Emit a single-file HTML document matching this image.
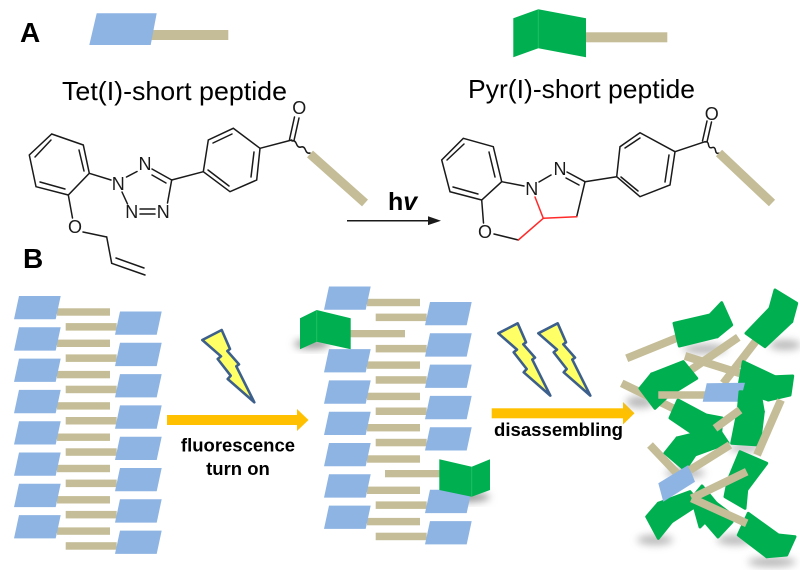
<!DOCTYPE html>
<html><head><meta charset="utf-8"><style>
html,body{margin:0;padding:0;background:#fff;}
svg{display:block;}
text{font-family:"Liberation Sans",Arial,sans-serif;}
</style></head><body>
<svg width="800" height="570" viewBox="0 0 800 570" xmlns="http://www.w3.org/2000/svg">
<defs>
<polygon id="bl" points="5,0 46.7,0 41.7,23.3 0,23.3" fill="#8eb4e3"/>
<filter id="blur" x="-50%" y="-50%" width="200%" height="200%"><feGaussianBlur stdDeviation="4"/></filter>
<g id="bolt"><polygon points="7.3,15 26.7,5 35,24 32.3,26 44,39.3 41.3,41.3 59.3,77.3 32.7,54 35.7,50.7 22.7,34 26,31.3" fill="#ffff66" stroke="#3d5f8b" stroke-width="2.6" stroke-linejoin="round"/></g>
</defs>

<!-- Labels A / B -->
<text x="20" y="42" font-size="28" font-weight="bold">A</text>
<text x="23" y="268" font-size="28" font-weight="bold">B</text>

<!-- Top icons -->
<rect x="150" y="30" width="78.3" height="10" fill="#c4bd97"/>
<polygon points="96.7,13.3 156.7,13.3 150.7,45 89.3,45" fill="#8eb4e3"/>
<rect x="585" y="32.3" width="82.3" height="10" fill="#c4bd97"/>
<polygon points="513.3,18.3 538.3,9.3 586,18.3 586,57.3 538.3,48.3 513.3,57.3" fill="#00b050"/>
<line x1="538.3" y1="9.5" x2="538.3" y2="48" stroke="#22c064" stroke-width="1"/>

<text x="62" y="100" font-size="26" textLength="225" lengthAdjust="spacingAndGlyphs">Tet(I)-short peptide</text>
<text x="468" y="98" font-size="26" textLength="227" lengthAdjust="spacingAndGlyphs">Pyr(I)-short peptide</text>

<!-- Left molecule -->
<g stroke="#1a1a1a" stroke-width="1.5" fill="none" stroke-linecap="round">
  <polygon points="51.7,134 83.3,145 89.3,173.3 68.3,195 36,186.7 29.3,155"/>
  <line x1="79" y1="150" x2="84" y2="171"/>
  <line x1="65" y1="189" x2="40" y2="182"/>
  <line x1="35" y1="157" x2="51" y2="140"/>
  <line x1="89.3" y1="173.3" x2="111" y2="180"/>
  <line x1="126.5" y1="177" x2="137" y2="171.5"/>
  <line x1="152" y1="169" x2="171.7" y2="180"/>
  <line x1="152" y1="175" x2="166" y2="183"/>
  <line x1="171.7" y1="180" x2="167.5" y2="203"/>
  <line x1="140" y1="209" x2="155" y2="209"/>
  <line x1="140" y1="214" x2="155" y2="214"/>
  <line x1="127.5" y1="204" x2="122" y2="192"/>
  <line x1="171.7" y1="180" x2="203.3" y2="171.7"/>
  <polygon points="203.3,171.7 208.3,140 233.3,128.3 260,148.3 256.7,180 230,191.7"/>
  <line x1="213" y1="143" x2="232" y2="134"/>
  <line x1="254" y1="152" x2="251" y2="177"/>
  <line x1="229" y1="186" x2="208" y2="170"/>
  <line x1="260" y1="148.3" x2="291.7" y2="140"/>
  <line x1="289.5" y1="139.5" x2="294.5" y2="117"/>
  <line x1="294" y1="140.5" x2="299" y2="118"/>
  <path d="M292,141 q3,-1 4.5,3 t4.5,3 t4.5,3 t4.5,3"/>
  <line x1="68.3" y1="195" x2="72.5" y2="218"/>
  <line x1="83" y1="232" x2="106.7" y2="237"/>
  <line x1="106.7" y1="237" x2="111.7" y2="263.3"/>
  <line x1="111.7" y1="263.3" x2="145" y2="275"/>
  <line x1="116" y1="258" x2="144" y2="268"/>
</g>
<line x1="310" y1="154" x2="365" y2="203" stroke="#c4bd97" stroke-width="9"/>
<g font-size="18" fill="#1a1a1a" text-anchor="middle">
  <text x="118.3" y="190">N</text>
  <text x="145" y="170">N</text>
  <text x="131.7" y="218">N</text>
  <text x="163.3" y="218">N</text>
  <text x="75" y="233">O</text>
  <text x="299.3" y="114">O</text>
</g>

<!-- Arrow hv -->
<line x1="347" y1="220.7" x2="432" y2="220.7" stroke="#1a1a1a" stroke-width="1.5"/>
<polygon points="441,220.7 428,216.3 428,225.1" fill="#1a1a1a"/>
<text x="388" y="210" font-size="25" font-weight="bold">h<tspan font-style="italic">v</tspan></text>

<!-- Right molecule -->
<g stroke="#1a1a1a" stroke-width="1.5" fill="none" stroke-linecap="round">
  <polygon points="463.3,138.3 493.3,146.7 501.7,181.7 481.7,200 450,191.7 441.7,160"/>
  <line x1="489" y1="152" x2="495" y2="177"/>
  <line x1="478" y1="194" x2="453" y2="187"/>
  <line x1="447" y1="160" x2="464" y2="144"/>
  <line x1="501.7" y1="181.7" x2="524" y2="186"/>
  <line x1="539" y1="182" x2="551" y2="175"/>
  <line x1="567" y1="172" x2="585" y2="181.7"/>
  <line x1="566" y1="178" x2="579" y2="185"/>
  <line x1="585" y1="181.7" x2="576.7" y2="216.7"/>
  <line x1="518.3" y1="240" x2="494" y2="234"/>
  <line x1="483.5" y1="223" x2="481.7" y2="200"/>
  <line x1="585" y1="181.7" x2="616.7" y2="176.7"/>
  <polygon points="616.7,176.7 620,146.7 640,132.7 675,151.7 670,185 640,196.7"/>
  <line x1="625" y1="148" x2="640" y2="138"/>
  <line x1="669" y1="155" x2="665" y2="182"/>
  <line x1="638" y1="191" x2="621" y2="177"/>
  <line x1="675" y1="151.7" x2="705" y2="141.7"/>
  <line x1="702.5" y1="141" x2="707" y2="121"/>
  <line x1="707" y1="142" x2="711.5" y2="122"/>
  <path d="M705,142 q3,-1 3.5,2.8 t3.5,2.8 t3.5,2.8 t3.5,2.8"/>
</g>
<g stroke="#ff2a2a" stroke-width="1.5" fill="none" stroke-linecap="round">
  <line x1="576.7" y1="216.7" x2="543.3" y2="218.3"/>
  <line x1="535" y1="197" x2="543.3" y2="218.3"/>
  <line x1="543.3" y1="218.3" x2="518.3" y2="240"/>
</g>
<line x1="719" y1="153" x2="772" y2="203" stroke="#c4bd97" stroke-width="9"/>
<g font-size="18" fill="#1a1a1a" text-anchor="middle">
  <text x="531.7" y="195">N</text>
  <text x="560" y="175">N</text>
  <text x="485" y="238">O</text>
  <text x="711.7" y="120">O</text>
</g>

<!-- Left stack -->
<g fill="#c4bd97">
  <rect x="57" y="308.3" width="53" height="7.4"/><rect x="57" y="339.6" width="53" height="7.4"/>
  <rect x="57" y="370.9" width="53" height="7.4"/><rect x="57" y="402.2" width="53" height="7.4"/>
  <rect x="57" y="433.5" width="53" height="7.4"/><rect x="57" y="464.8" width="53" height="7.4"/>
  <rect x="57" y="496.1" width="53" height="7.4"/><rect x="57" y="527.4" width="53" height="7.4"/>
  <rect x="65.7" y="323.1" width="51" height="7.5"/><rect x="65.7" y="354.4" width="51" height="7.5"/>
  <rect x="65.7" y="385.7" width="51" height="7.5"/><rect x="65.7" y="417" width="51" height="7.5"/>
  <rect x="65.7" y="448.3" width="51" height="7.5"/><rect x="65.7" y="479.6" width="51" height="7.5"/>
  <rect x="65.7" y="510.9" width="51" height="7.5"/><rect x="65.7" y="542.2" width="51" height="7.5"/>
</g>
<use href="#bl" x="14" y="296"/><use href="#bl" x="14" y="327.3"/><use href="#bl" x="14" y="358.6"/><use href="#bl" x="14" y="389.9"/>
<use href="#bl" x="14" y="421.2"/><use href="#bl" x="14" y="452.5"/><use href="#bl" x="14" y="483.8"/><use href="#bl" x="14" y="515.1"/>
<use href="#bl" x="115" y="311.5"/><use href="#bl" x="115" y="342.8"/><use href="#bl" x="115" y="374.1"/><use href="#bl" x="115" y="405.4"/>
<use href="#bl" x="115" y="436.7"/><use href="#bl" x="115" y="468"/><use href="#bl" x="115" y="499.3"/><use href="#bl" x="115" y="530.6"/>

<!-- Bolts -->
<use href="#bolt" x="195" y="325"/>
<use href="#bolt" x="491" y="318.3"/>
<use href="#bolt" x="531" y="318.3"/>

<!-- Arrow 1 -->
<rect x="167" y="415" width="131" height="10" fill="#ffc000"/>
<polygon points="297,409 308.5,420 297,431" fill="#ffc000"/>
<text x="238" y="451.5" font-size="18.5" font-weight="bold" text-anchor="middle">fluorescence</text>
<text x="238" y="475" font-size="18.5" font-weight="bold" text-anchor="middle">turn on</text>

<!-- Arrow 2 -->
<rect x="491.7" y="408.3" width="132.3" height="10" fill="#ffc000"/>
<polygon points="623,402 634.5,413.3 623,424.5" fill="#ffc000"/>
<text x="494" y="436" font-size="18.5" font-weight="bold" textLength="129" lengthAdjust="spacingAndGlyphs">disassembling</text>

<!-- Middle stack -->
<ellipse cx="312" cy="344" rx="18" ry="5" fill="#9a9a9a" filter="url(#blur)"/>
<ellipse cx="466" cy="497" rx="24" ry="5" fill="#9a9a9a" filter="url(#blur)"/>
<g transform="translate(310,-9.5)">
  <g fill="#c4bd97">
    <rect x="57" y="308.3" width="53" height="7.4"/>
    <rect x="57" y="370.9" width="53" height="7.4"/><rect x="57" y="402.2" width="53" height="7.4"/>
    <rect x="57" y="433.5" width="53" height="7.4"/><rect x="57" y="464.8" width="53" height="7.4"/>
    <rect x="57" y="496.1" width="53" height="7.4"/><rect x="57" y="527.4" width="53" height="7.4"/>
    <rect x="65.7" y="323.1" width="51" height="7.5"/><rect x="65.7" y="354.4" width="51" height="7.5"/>
    <rect x="65.7" y="385.7" width="51" height="7.5"/><rect x="65.7" y="417" width="51" height="7.5"/>
    <rect x="65.7" y="448.3" width="51" height="7.5"/>
    <rect x="65.7" y="510.9" width="51" height="7.5"/><rect x="65.7" y="542.2" width="51" height="7.5"/>
  </g>
  <use href="#bl" x="14" y="296"/><use href="#bl" x="14" y="358.6"/><use href="#bl" x="14" y="389.9"/>
  <use href="#bl" x="14" y="421.2"/><use href="#bl" x="14" y="452.5"/><use href="#bl" x="14" y="483.8"/><use href="#bl" x="14" y="515.1"/>
  <use href="#bl" x="115" y="311.5"/><use href="#bl" x="115" y="342.8"/><use href="#bl" x="115" y="374.1"/><use href="#bl" x="115" y="405.4"/>
  <use href="#bl" x="115" y="436.7"/><use href="#bl" x="115" y="499.3"/><use href="#bl" x="115" y="530.6"/>
</g>
<rect x="348" y="330" width="57" height="7.3" fill="#c4bd97"/>
<polygon points="300,318.3 316.7,310 350.7,318.3 350.7,349.3 316.7,341.7 300,349.3" fill="#00b050"/>
<line x1="316.7" y1="310.5" x2="316.7" y2="341.5" stroke="#22c064" stroke-width="1"/>
<rect x="385" y="470" width="56" height="7.3" fill="#c4bd97"/>
<polygon points="439.3,459.3 471.7,466.7 490,459.3 490,490 471.7,496.7 439.3,490" fill="#00b050"/>
<line x1="471.7" y1="467" x2="471.7" y2="496.5" stroke="#22c064" stroke-width="1"/>

<!-- Disassembled cluster -->
<g fill="#a8a8a8" filter="url(#blur)" opacity="0.8">
  <ellipse cx="705" cy="349" rx="22" ry="5"/>
  <ellipse cx="785" cy="345" rx="16" ry="5"/>
  <ellipse cx="640" cy="402" rx="14" ry="6"/>
  <ellipse cx="685" cy="473" rx="20" ry="5"/>
  <ellipse cx="655" cy="540" rx="18" ry="5"/>
  <ellipse cx="735" cy="540" rx="18" ry="5"/>
  <ellipse cx="772" cy="562" rx="24" ry="5"/>
  <ellipse cx="745" cy="448" rx="16" ry="4"/>
</g>
<g stroke="#c4bd97" stroke-width="8">
  <line x1="626.7" y1="358.3" x2="680" y2="336.7"/>
  <line x1="756.7" y1="340" x2="723.3" y2="383.3"/>
  <line x1="738.3" y1="337.3" x2="688.3" y2="371.7"/>
  <line x1="685" y1="356" x2="740" y2="373.3"/>
  <line x1="621.7" y1="383.3" x2="676.7" y2="410"/>
  <line x1="650" y1="445" x2="683.3" y2="480"/>
</g>
<g fill="#00b050" stroke="#00b050" stroke-width="3" stroke-linejoin="round">
  <polygon points="674,323.3 710,315 717.3,336.7 679.3,346"/><polygon points="710,315 721.7,302.7 731.7,325 717.3,336.7"/>
  <polygon points="746,333.3 770,308.3 791.7,321.7 765,346.7"/><polygon points="770,308.3 775,290 796.7,303.3 791.7,321.7"/>
  <polygon points="640,388.3 651.7,374 668,396 655,408.3"/><polygon points="651.7,374 683.3,361.7 696.7,378.3 668,396"/>
  <polygon points="743.3,361.7 775,376.7 768.3,400 738.3,390"/><polygon points="775,376.7 792.7,376 790,395 768.3,400"/>
  <polygon points="670,418 678,400 706,415 698,437"/><polygon points="706,415 722,418 720,440 698,437"/>
  <polygon points="665,453 677,438 695,455 685,470"/><polygon points="677,438 718,428 728,443 695,455"/>
  <polygon points="728.3,480 740,451.7 766.7,463.3 746.7,490"/><polygon points="725,496.7 728.3,480 746.7,490 745,508.3"/>
</g>
<line x1="658.3" y1="395" x2="706.7" y2="395" stroke="#c4bd97" stroke-width="7.5"/>
<polygon points="706.7,383.3 745,382.7 740,401.7 702.7,401.7" fill="#8eb4e3"/>
<g fill="#00b050" stroke="#00b050" stroke-width="3" stroke-linejoin="round">
  <polygon points="740,391.7 760,392.7 763.3,411.7 738.3,410"/><polygon points="738.3,410 763.3,411.7 759.3,445 731.7,443.3"/>
  <polygon points="646.7,516.7 658.3,503.3 671.7,521.7 658.3,538.3"/><polygon points="658.3,503.3 690,491.7 700,503.3 671.7,521.7"/>
  <polygon points="692,498 702,486 716,503 705,522 700,527"/><polygon points="716,503 728,512 732,522 718,537 705,522"/>
  <polygon points="738.3,535 748.3,513.3 778.3,535 766.7,556.7"/><polygon points="778.3,535 795,536.7 786.7,555 766.7,556.7"/>
</g>
<polygon points="658.3,483.3 688.3,465 695,481.7 663.3,501.7" fill="#8eb4e3"/>
<g stroke="#c4bd97" stroke-width="8">
  <line x1="781" y1="400" x2="757" y2="455"/>
  <line x1="715" y1="428.3" x2="740" y2="410"/>
  <line x1="690" y1="470" x2="730" y2="445"/>
  <line x1="691.7" y1="498.3" x2="746.7" y2="523.3"/>
  <line x1="691.7" y1="498.3" x2="746.7" y2="471.7"/>
</g>
</svg>
</body></html>
